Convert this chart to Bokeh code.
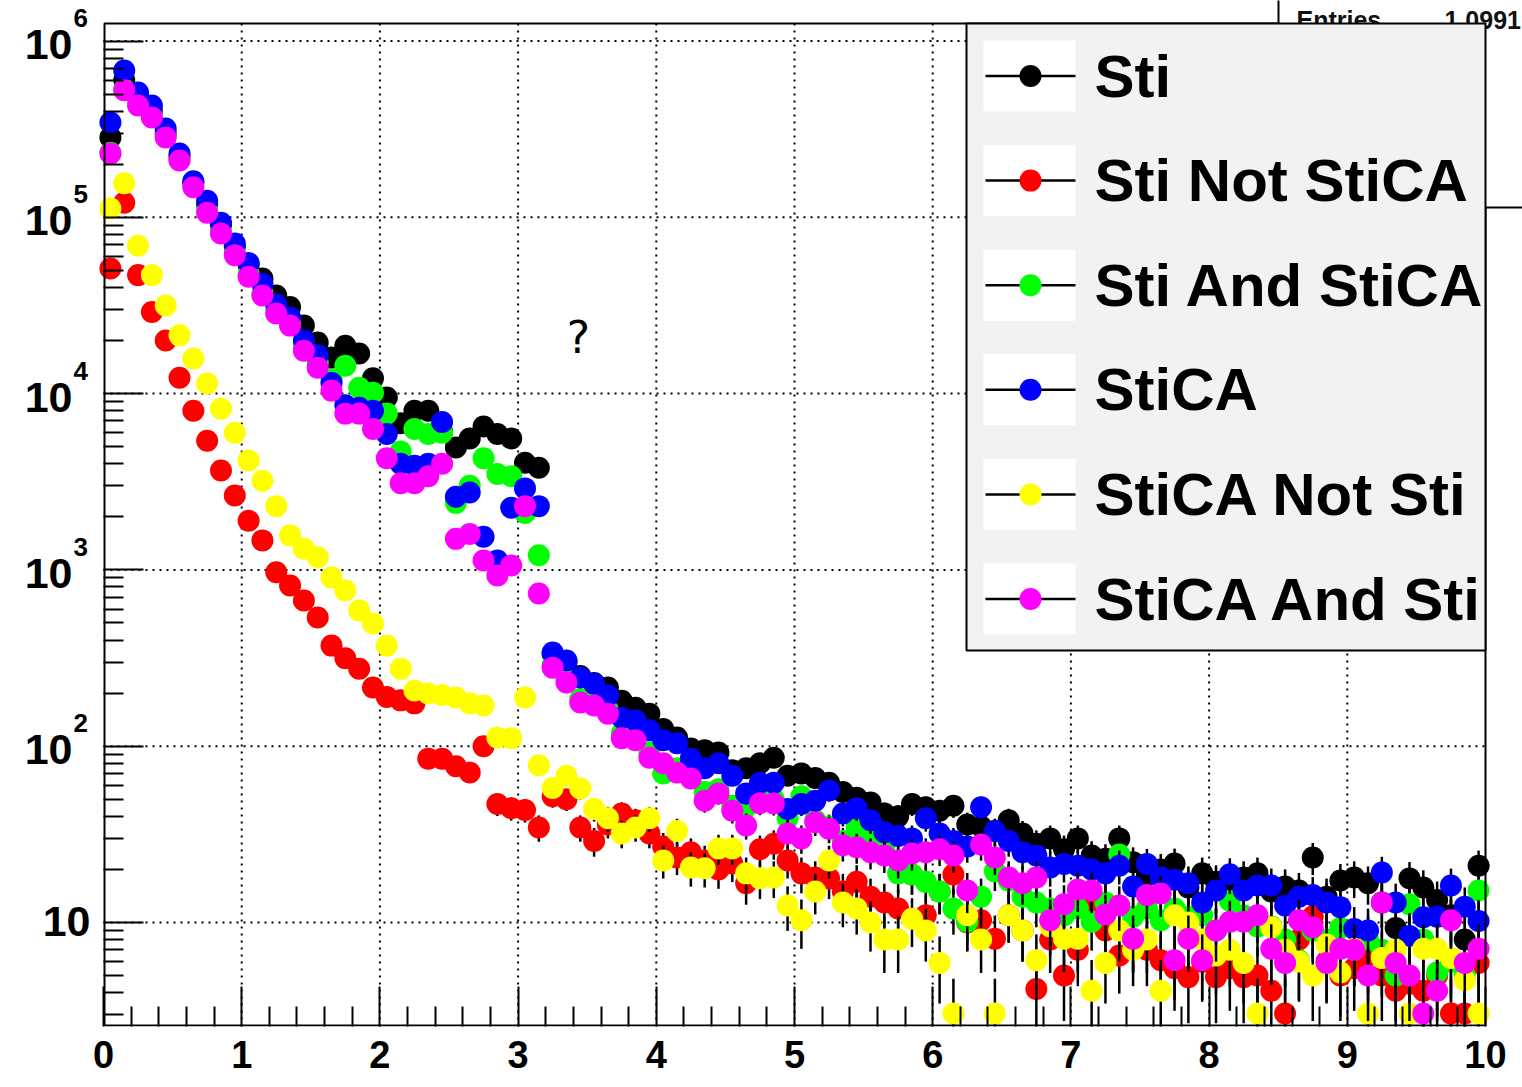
import math
from bokeh.plotting import figure
from bokeh.models import Range1d, FixedTicker, ColumnDataSource, CustomJSTickFormatter
from bokeh.embed import file_html
from bokeh.resources import INLINE
from bokeh.core.properties import value

# ---------------- data ----------------
N_BINS = 100
X_MIN, X_MAX = 0.0, 10.0
bin_width = (X_MAX - X_MIN) / N_BINS
bin_centers = [X_MIN + (i + 0.5) * bin_width for i in range(N_BINS)]

sti = [
    284000, 600000, 480000, 400000, 300000, 220000, 158000, 118000, 90000, 68000,
    54000, 45000, 36000, 31000, 24300, 19500, 16000, 18700, 16900, 12200,
    9500, 6800, 8000, 8000, 6100, 4950, 5560, 6500, 5900, 5560,
    4050, 3800, 335, 300, 250, 228, 215, 181, 165, 153,
    125, 112, 97, 95, 92, 73, 75, 80, 86, 68,
    70, 66, 62, 55, 51, 48, 41.5, 40, 47, 45,
    43, 46, 36, 35, 33, 38, 32, 28, 30, 26,
    30, 24, 23, 30, 22, 18.5, 20, 21.6, 15.8, 19,
    17, 16, 18, 19, 15, 16, 15.2, 23.4, 14, 17.3,
    18, 16.7, 13, 9.3, 17.8, 15.8, 13.4, 11, 8, 21]

sti_not_stica = [
    51300, 121000, 47000, 29000, 20000, 12300, 8000, 5400, 3660, 2640,
    1900, 1470, 970, 815, 670, 537, 372, 315, 275, 215,
    190, 182, 175, 85, 85, 77, 71, 100, 47, 44.5,
    43.5, 34.6, 52, 50, 34.6, 29, 36, 41.5, 38, 32,
    27, 23.4, 25, 22.5, 20, 21.6, 16.7, 26, 28, 22.5,
    19, 18, 17.8, 15, 17, 14, 13, 12, 18.7, 11,
    15, 18.7, 10, 10.3, 8.1, 11, 9, 4.2, 8, 5,
    7, 13, 9, 6.5, 8, 7, 6.1, 5.5, 4.9, 6,
    4.9, 5.5, 4.9, 5, 4.1, 3.05, 8, 10.8, 6, 5,
    5.5, 6.5, 5, 4.1, 4.5, 4.1, 5, 3.05, 3.05, 5.9]

sti_and_stica = [
    232000, 530000, 440000, 375000, 290000, 215000, 152000, 110000, 84000, 63000,
    48000, 37000, 29500, 25000, 18500, 15000, 12000, 14400, 10800, 10100,
    7700, 4700, 6300, 5900, 6000, 2400, 3000, 4300, 3500, 3400,
    2100, 1210, 290, 240, 185, 178, 160, 118, 112, 92,
    70, 75, 68, 55, 57, 46, 45, 50, 50, 39,
    52, 38, 35, 29, 35, 30, 27, 19, 18.7, 17,
    15, 12, 10.1, 14, 19.5, 17.3, 14, 13, 12, 11,
    12, 10.1, 13, 24.3, 10.8, 12, 10.3, 12, 10.8, 11,
    9, 13.3, 11, 9.5, 9.5, 8, 6.1, 9, 8, 9.3,
    7, 8, 7, 5, 12.7, 8, 5.2, 6, 5, 15.2]

stica = [
    345000, 680000, 511000, 431000, 319000, 230000, 160000, 124000, 93000, 71000,
    55000, 42000, 32000, 27000, 20000, 16500, 11500, 8600, 8300, 8000,
    5900, 4000, 3900, 4000, 6900, 2600, 2750, 1540, 1130, 2250,
    2900, 2300, 340, 306, 245, 226, 194, 145, 140, 123,
    108, 104, 85, 75, 80, 68, 54, 62, 62, 44,
    47, 49, 56, 41.5, 44.4, 38, 32.5, 31, 30, 39,
    32, 29, 27, 45, 33, 29, 25, 24, 20.5, 21.5,
    21, 20, 19, 21, 16, 21.5, 18, 17.5, 16.7, 13,
    15.2, 18.8, 15.2, 16.2, 16.2, 12.5, 14, 14.3, 13, 12.2,
    9.2, 9, 19.2, 13, 8.4, 10.7, 10.8, 16.2, 12.3, 10.2]

stica_not_sti = [
    112000, 156000, 69000, 47000, 31600, 21400, 15800, 11400, 8200, 6000,
    4170, 3200, 2300, 1570, 1320, 1180, 905, 764, 589, 497,
    372, 275, 207, 199, 195, 189, 175, 170, 112, 111,
    189, 78, 58, 68, 57.5, 44, 39, 32, 34.6, 39,
    22.5, 33, 20.5, 20.3, 26.3, 26.3, 19, 17.8, 18, 12.5,
    10.3, 15, 22.5, 13, 12, 10, 8, 8, 10.5, 9,
    5.9, 3.05, 11, 8, 3.05, 11, 9, 6.1, 9.5, 8.1,
    8.1, 4.1, 5.9, 9, 7, 8, 4.1, 11, 10, 8,
    6.5, 7, 5.9, 3.05, 9.4, 7, 6, 5, 7.5, 5.2,
    7.1, 3.05, 6.3, 7, 3.05, 7.1, 7.1, 6.3, 4.7, 3.05]

stica_and_sti = [
    230000, 525000, 431000, 368000, 284000, 210000, 148000, 106000, 81000, 61000,
    46000, 36000, 28500, 24300, 17500, 14000, 10400, 7700, 7700, 6300,
    4300, 3100, 3100, 3400, 4000, 1500, 1600, 1130, 930, 1060,
    2300, 734, 279, 230, 177, 170, 153, 111, 108, 86,
    80, 71, 65.6, 49, 54, 43, 35.5, 47.5, 47.3, 32,
    30, 37, 34, 27.4, 26.7, 25, 24, 22.5, 24.6, 25,
    26, 24, 15.2, 27.7, 23.4, 18, 16.7, 18, 10.3, 12.7,
    15.4, 15.2, 11.1, 12.5, 8.1, 14.3, 14.6, 6.1, 8.1, 6.1,
    9, 10.1, 10.1, 11, 7.1, 5.9, 10.3, 9.4, 5.9, 7.1,
    7, 5, 13, 5.9, 5, 3.05, 4.1, 10.3, 5.9, 7.1]

series_names = ["Sti", "Sti Not StiCA", "Sti And StiCA", "StiCA", "StiCA Not Sti", "StiCA And Sti"]
series_values = [sti, sti_not_stica, sti_and_stica, stica, stica_not_sti, stica_and_sti]
series_colors = ["#000000", "#ff0000", "#00ff00", "#0000ff", "#ffff00", "#ff00ff"]

x_major_ticks = list(range(11))
y_major_ticks = [10, 100, 1e3, 1e4, 1e5, 1e6]
y_tick_exponents = ["", "2", "3", "4", "5", "6"]
stats_texts = ["Entries", "1.0991"]
odd_text = "?"

# ---------------- page geometry (pixels of the page) ----------------
W, H = 1522, 1087
PX0, PX10 = 103.0, 1485.0      # columns of x = 0 and x = 10
PY6, PY1 = 40.5, 922.0         # rows of y = 1e6 and y = 10
DEC = (PY1 - PY6) / 5.0
FRAME_TOP, FRAME_BOTTOM = 23, 1026


def X(px):
    return X_MIN + (px - PX0) / (PX10 - PX0) * (X_MAX - X_MIN)


def Y(py):
    return 10 ** (6 - (py - PY6) / DEC)


def row_of(v):
    return PY6 + (6 - math.log10(v)) * DEC


p = figure(width=W, height=H,
           x_range=Range1d(X(0), X(W)),
           y_range=Range1d(Y(FRAME_BOTTOM), Y(0)),
           y_axis_type="log", output_backend="svg", toolbar_location=None,
           min_border_left=0, min_border_right=0,
           min_border_top=0, min_border_bottom=H - FRAME_BOTTOM)
p.outline_line_color = None
p.background_fill_color = "white"
p.border_fill_color = "white"
p.xgrid.visible = False
p.ygrid.visible = False

xa = p.xaxis[0]
ya = p.yaxis[0]
xa.ticker = FixedTicker(ticks=x_major_ticks,
                        minor_ticks=[t + f for t in x_major_ticks[:-1] for f in (0.2, 0.4, 0.6, 0.8)])
ya.ticker = FixedTicker(ticks=y_major_ticks,
                        minor_ticks=[m * d for d in (1, 10, 100, 1e3, 1e4, 1e5) for m in range(2, 10)
                                     if m * d > Y(FRAME_BOTTOM)])
ya.fixed_location = X_MIN
for ax in (xa, ya):
    ax.axis_line_color = None
    ax.major_tick_in = 40
    ax.major_tick_out = 0
    ax.minor_tick_in = 20
    ax.minor_tick_out = 0
    ax.major_tick_line_width = 2
    ax.minor_tick_line_width = 2
    ax.major_tick_line_color = "black"
    ax.minor_tick_line_color = "black"
xa.major_label_text_font = "Liberation Sans"
xa.major_label_text_font_style = "bold"
xa.major_label_text_font_size = "38px"
xa.major_label_text_color = "black"
xa.major_label_standoff = 14
ya.formatter = CustomJSTickFormatter(code="return ''")
ya.major_label_standoff = 0

# dotted grid
gx = x_major_ticks[1:-1]
p.segment(x0=gx, x1=gx, y0=[Y(FRAME_BOTTOM)] * len(gx), y1=[Y(FRAME_TOP)] * len(gx),
          line_color="black", line_width=2, line_dash="2 5")
p.segment(x0=[X_MIN] * len(y_major_ticks), x1=[X_MAX] * len(y_major_ticks),
          y0=y_major_ticks, y1=y_major_ticks,
          line_color="black", line_width=2, line_dash="2 5")

# histograms with error bars
y_floor = Y(FRAME_BOTTOM + 40)
for vals, col in zip(series_values, series_colors):
    lo = [max(v - math.sqrt(v), y_floor) for v in vals]
    hi = [v + math.sqrt(v) for v in vals]
    src = ColumnDataSource(dict(x=bin_centers, y=vals, lo=lo, hi=hi))
    p.segment(x0="x", x1="x", y0="lo", y1="hi", source=src, line_color="black", line_width=2.5)
    p.scatter(x="x", y="y", source=src, marker="circle", size=22,
              fill_color=col, line_color=None)

# frame
p.quad(left=[X(104)], right=[X(PX10)], bottom=[Y(FRAME_BOTTOM - 1)], top=[Y(FRAME_TOP)],
       fill_color=None, line_color="black", line_width=2)

# y tick labels: "10" with superscript exponent
lab_font = value("Liberation Sans")
for v, e in zip(y_major_ticks, y_tick_exponents):
    r = row_of(v)
    if e == "":
        p.text(x=[X(90)], y=[Y(r - 1)], text=["10"], text_font=lab_font, text_font_style="bold",
               text_font_size="43px", text_color="black", text_align="right", text_baseline="middle")
    else:
        p.text(x=[X(72)], y=[Y(r + 3.5)], text=["10"], text_font=lab_font, text_font_style="bold",
               text_font_size="43px", text_color="black", text_align="right", text_baseline="middle")
        p.text(x=[X(73)], y=[Y(r - 23)], text=[e], text_font=lab_font, text_font_style="bold",
               text_font_size="26px", text_color="black", text_align="left", text_baseline="middle")

# stats box (mostly hidden behind the legend)
p.quad(left=[X(1278)], right=[X(1600)], bottom=[Y(207)], top=[Y(-20)],
       fill_color="white", line_color="black", line_width=2)
p.text(x=[X(1296), X(1444)], y=[Y(19), Y(19)], text=stats_texts,
       text_font=lab_font, text_font_style="bold", text_font_size="25px",
       text_color="#111111", text_baseline="middle", text_align="left")

# legend
LEG_L, LEG_R, LEG_T, LEG_B = 966, 1485, FRAME_TOP, 650
p.quad(left=[X(LEG_L)], right=[X(LEG_R)], top=[Y(LEG_T)], bottom=[Y(LEG_B)],
       fill_color="#f2f2f2", line_color="black", line_width=2)
rows = [75.5 + 104.6 * i for i in range(len(series_names))]
p.quad(left=[X(983)] * len(rows), right=[X(1075)] * len(rows),
       top=[Y(r - 35.5) for r in rows], bottom=[Y(r + 35.5) for r in rows],
       fill_color="white", line_color=None)
p.segment(x0=[X(985)] * len(rows), x1=[X(1075)] * len(rows),
          y0=[Y(r) for r in rows], y1=[Y(r) for r in rows],
          line_color="black", line_width=2.5)
p.scatter(x=[X(1030)] * len(rows), y=[Y(r) for r in rows], marker="circle", size=22,
          fill_color=series_colors, line_color=None)
p.text(x=[X(1094)] * len(rows), y=[Y(r) for r in rows], text=series_names,
       text_font=lab_font, text_font_style="bold", text_font_size="60px",
       text_color="black", text_baseline="middle", text_align="left")

# stray glyph
p.text(x=[X(578)], y=[Y(337)], text=[odd_text], text_font=value("DejaVu Sans"),
       text_font_size="44px", text_color="black", text_baseline="middle", text_align="center")

open("out.html", "w").write(file_html(p, INLINE))
